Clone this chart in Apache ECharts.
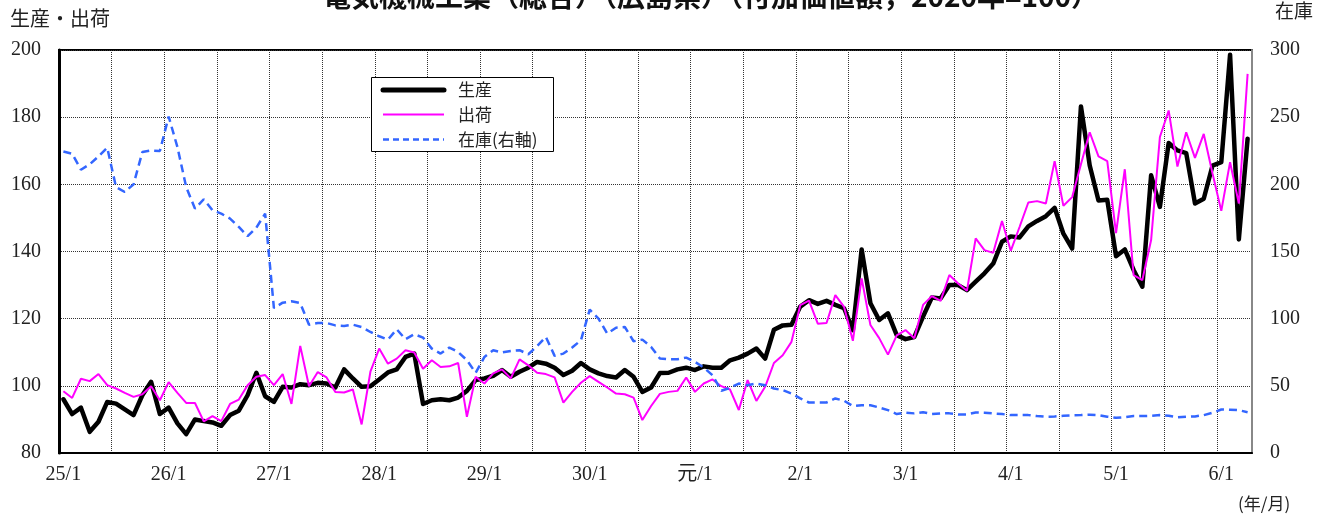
<!DOCTYPE html>
<html>
<head>
<meta charset="utf-8">
<script src="https://cdn.jsdelivr.net/npm/echarts@6/dist/echarts.min.js"></script>
<style>html,body{margin:0;padding:0;background:#fff;}#c{width:1321px;height:520px;}</style>
</head>
<body>
<div id="c"></div>
<script>
// Year labels (Heisei 25 .. Reiwa 6), monthly data from 25/1 to 6/4
const yearLabels = ['25','26','27','28','29','30','元','2','3','4','5','6'];
const lastYearMonths = 4;

const production = [
96,91.6,93.5,86.3,89.3,95.2,94.7,93,91.3,97.2,101.2,91.6,
93.5,88.8,85.6,90,89.5,89.1,88.1,91.3,92.6,97.2,103.9,96.9,
95.2,99.7,99.5,100.5,100.2,100.9,100.7,99.5,104.9,102.2,99.7,99.9,
101.9,104,104.9,108.6,109.6,94.6,95.7,96,95.7,96.5,98.5,101.7,
102.2,103,104.7,102.7,104.2,105.4,107.1,106.6,105.4,103.2,104.5,106.8,
104.9,103.7,102.9,102.5,104.7,102.7,98.2,99.5,103.8,103.9,104.9,105.4,
104.7,105.8,105.4,105.4,107.6,108.4,109.6,111.1,108.1,116.7,118,118.2,
123.6,125.5,124.4,125.3,124.1,123.1,116.6,140.6,124.6,119.6,121.6,115.1,
113.9,114.5,120.6,126.3,126,130,130,128.5,131,133.5,136.4,142.9,
144.5,144.2,147.5,149.1,150.5,153,145.3,140.9,183.2,165.6,155.2,155.4,
138.6,140.6,134.5,129.5,162.7,153.3,172.3,170.1,169.3,154.3,155.7,165.6,
166.6,198.6,143.6,173.6
];

const shipments = [
98.4,96.4,102.1,101.4,103.5,100.2,99.2,97.9,96.7,97.5,99.9,95.7,
101.1,97.9,94.9,94.9,89.4,91,89.5,94.6,95.9,100.2,102.7,103.2,
100.2,103.5,94.6,111.9,99.9,104.1,102.5,98.2,98,98.9,88.5,104.2,
111.1,106.6,108.1,110.6,109.9,105.1,107.6,105.6,105.8,106.8,90.8,102.7,
100.7,103.7,104.9,102.2,107.9,106.1,103.9,103.5,102.5,95,98.2,100.9,
102.9,101.2,99.5,97.7,97.5,96.5,89.8,94,97.6,98.2,98.5,102.5,
98.2,100.7,101.9,99.9,98.9,92.8,101.7,95.5,99.7,106.8,109.1,113.1,
124,125.4,118.5,118.7,127,123.5,113.4,132,118.1,114.2,109.3,115,
116.6,114.2,124.1,126.7,125.3,133,130.5,128.3,143.9,140.4,139.6,149.1,
140.2,147.3,154.6,155,154.3,166.9,153.6,156.2,166,175.5,168.3,166.9,
145.5,164.5,133,131.5,143.4,174.1,182,165.3,175.5,167.9,175,163.2,
152.1,166.6,154.3,192.9
];

const inventory = [
224.5,222.8,210.9,214.9,220.8,227.2,198,194.3,200,224,225.2,224.8,
250.5,227.7,198,181.9,188.9,180.7,178.2,174.5,168.3,161.4,167.8,178.2,
107.9,111.9,112.9,111.6,95.5,96.8,96.8,95,94.6,95.5,93.8,90.1,
86.9,84.4,92.1,84.7,88.4,85.9,77.7,74,78.5,75.2,69.1,59.7,
71.5,76.5,74.8,76,76.5,73.5,79.5,86.4,72.3,74,78.5,83.9,
106.7,100,88.9,93.3,93.8,83.2,84.4,79,70.3,69.8,69.8,71,
67.8,63.6,57.9,46.3,48.5,51.7,50.5,51.7,50.5,48,46.8,44.3,
40.6,37.6,37.6,37.6,40.6,38.9,34.9,35.6,35.6,33.9,31.9,29,
30,29.5,30.4,29,29.5,29.5,28.7,28.7,30.2,30,29.5,29,
28.2,28.2,28.2,27.5,27,27.2,27.7,28,28.2,28.5,28.2,27,
26.2,26.7,27.5,27.5,27.7,28.2,27.7,26.5,27,27.2,28.2,30,
32.4,32.2,31.9,30.4
];

const seriesNames = ['生産', '出荷', '在庫(右軸)'];
const leftTicks = {min: 80, max: 200, interval: 20};
const rightTicks = {min: 0, max: 300, interval: 50};

const categories = [];
yearLabels.forEach((y, yi) => {
  const n = yi === yearLabels.length - 1 ? lastYearMonths : 12;
  for (let m = 1; m <= n; m++) categories.push(y + '/' + m);
});

const FONT = "'Liberation Serif', 'Noto Sans CJK JP', serif";
const JP = "'Noto Sans CJK JP'";
const styles = [
  {color: '#000', width: 4.5, type: 'solid'},
  {color: '#FF00FF', width: 2, type: 'solid'},
  {color: '#3366FF', width: 2.5, type: [8, 5]}
];

// custom legend box
const legendGraphics = [
  {type: 'rect', shape: {x: 371.5, y: 77.5, width: 182, height: 74},
   style: {fill: '#fff', stroke: '#000', lineWidth: 1}, z: 100}
];
const rowY = [90, 114.5, 139.5];
seriesNames.forEach((n, k) => {
  const s = styles[k];
  legendGraphics.push({type: 'line', shape: {x1: 383, y1: rowY[k], x2: 444, y2: rowY[k]},
    style: {stroke: s.color, lineWidth: k === 0 ? 5 : s.width,
            lineDash: Array.isArray(s.type) ? [6, 4] : null, lineCap: k === 0 ? 'round' : 'butt'}, z: 101});
  legendGraphics.push({type: 'text', x: 458, y: rowY[k],
    style: {text: n, font: "17px " + JP, fill: '#222', textVerticalAlign: 'middle'}, z: 101});
});

const chart = echarts.init(document.getElementById('c'), null, {renderer: 'canvas'});
chart.setOption({
  animation: false,
  backgroundColor: '#fff',
  grid: {left: 59, right: 69, top: 50, bottom: 67, containLabel: false,
         show: true, borderColor: '#000', borderWidth: 2, backgroundColor: 'transparent'},
  xAxis: {
    type: 'category', data: categories, boundaryGap: true,
    axisLine: {show: true, lineStyle: {color: '#000', width: 2}},
    axisTick: {show: false, interval: (i) => i % 6 === 0},
    splitLine: {show: true, interval: (i) => i % 6 === 0,
                lineStyle: {color: '#333', type: 'dotted', width: 1}},
    axisLabel: {interval: (i) => i % 12 === 0, margin: 12,
                fontFamily: FONT, fontSize: 20, color: '#222'}
  },
  yAxis: [
    {type: 'value', min: leftTicks.min, max: leftTicks.max, interval: leftTicks.interval,
     axisLine: {show: true, lineStyle: {color: '#000', width: 3}},
     axisTick: {show: false},
     splitLine: {show: true, lineStyle: {color: '#333', type: 'dotted', width: 1}},
     axisLabel: {margin: 18, fontFamily: FONT, fontSize: 20, color: '#222'}},
    {type: 'value', min: rightTicks.min, max: rightTicks.max, interval: rightTicks.interval,
     position: 'right',
     axisLine: {show: true, lineStyle: {color: '#888', width: 2}},
     axisTick: {show: false},
     splitLine: {show: false},
     axisLabel: {margin: 18, fontFamily: FONT, fontSize: 20, color: '#222'}}
  ],
  series: [
    {name: seriesNames[0], type: 'line', data: production, yAxisIndex: 0,
     showSymbol: false, symbol: 'none',
     lineStyle: {color: styles[0].color, width: styles[0].width, join: 'round', cap: 'round'}, z: 2},
    {name: seriesNames[1], type: 'line', data: shipments, yAxisIndex: 0,
     showSymbol: false, symbol: 'none',
     lineStyle: {color: styles[1].color, width: styles[1].width}, z: 3},
    {name: seriesNames[2], type: 'line', data: inventory, yAxisIndex: 1,
     showSymbol: false, symbol: 'none',
     lineStyle: {color: styles[2].color, width: styles[2].width, type: styles[2].type}, z: 4}
  ],
  graphic: legendGraphics.concat([
    {type: 'text', left: 10, top: 8,
     style: {text: '生産・出荷', font: "20px " + JP, fill: '#222'}},
    {type: 'text', right: 8, top: 1,
     style: {text: '在庫', font: "19px " + JP, fill: '#222'}},
    {type: 'text', left: 1238, top: 495,
     style: {text: '(年/月)', font: "17px " + JP, fill: '#222'}},
    {type: 'text', x: 711, y: 10,
     style: {text: '電気機械工業（総合）（広島県）（付加価値額，2020年=100）',
             font: "bold 28px " + JP, fill: '#111',
             textAlign: 'center', textVerticalAlign: 'bottom'}}
  ])
});
</script>
</body>
</html>
